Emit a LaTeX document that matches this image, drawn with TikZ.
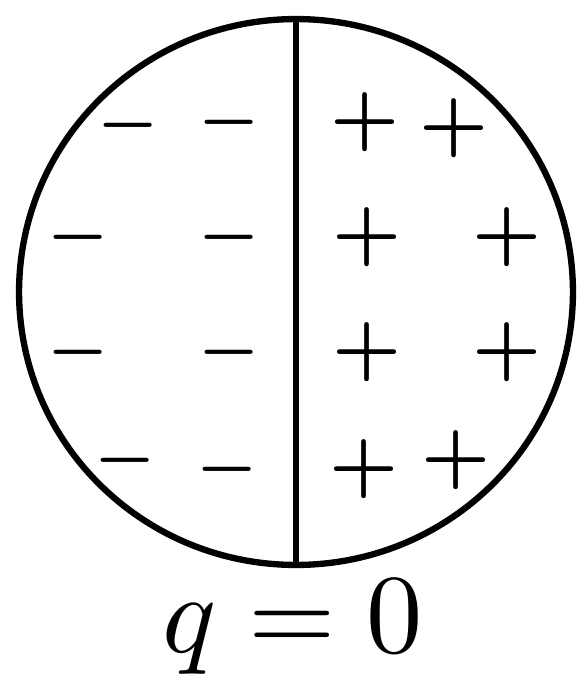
\documentclass[tikz,border=0pt]{standalone}
\usepackage{tikz}
\usetikzlibrary{shapes.geometric}

\newcommand{\negsz}{\scalebox{3.9}{\boldmath$-$}}
\newcommand{\possz}{\scalebox{4.4}{\boldmath$+$}}

\begin{document}
\begin{tikzpicture}[
    x=0.02cm, y=-0.02cm,
    body/.style={ellipse, draw, line width=3.6pt, inner sep=0pt, minimum width=11.08cm, minimum height=10.92cm},
    wall/.style={line width=3.8pt},
    negsign/.style={inner sep=0pt},
    possign/.style={inner sep=0pt},
    lbl/.style={inner sep=0pt, anchor=base},
]
\useasboundingbox (0,0) rectangle (581,677);

% ========== CONDUCTOR ==========
\node[body] at (296,292) (sphere) {};
\draw[wall] (sphere.north) -- (sphere.south);

% ========== LEFT HALF: negative charges ==========
\node[negsign] at (128,125) (n1) {\negsz};
\node[negsign] at (229,122) (n2) {\negsz};
\node[negsign] at (78,237) (n3) {\negsz};
\node[negsign] at (229,237) (n4) {\negsz};
\node[negsign] at (78,352) (n5) {\negsz};
\node[negsign] at (229,352) (n6) {\negsz};
\node[negsign] at (125,460) (n7) {\negsz};
\node[negsign] at (227,469) (n8) {\negsz};

% ========== RIGHT HALF: positive charges ==========
\node[possign] at (365,122) (p1) {\possz};
\node[possign] at (454,128) (p2) {\possz};
\node[possign] at (367,237) (p3) {\possz};
\node[possign] at (507,237) (p4) {\possz};
\node[possign] at (367,352) (p5) {\possz};
\node[possign] at (507,352) (p6) {\possz};
\node[possign] at (364,469) (p7) {\possz};
\node[possign] at (456,460) (p8) {\possz};

% total charge
\node[lbl] at (293,652) (total) {\scalebox{6.4}{$q = 0$}};

\end{tikzpicture}
\end{document}
